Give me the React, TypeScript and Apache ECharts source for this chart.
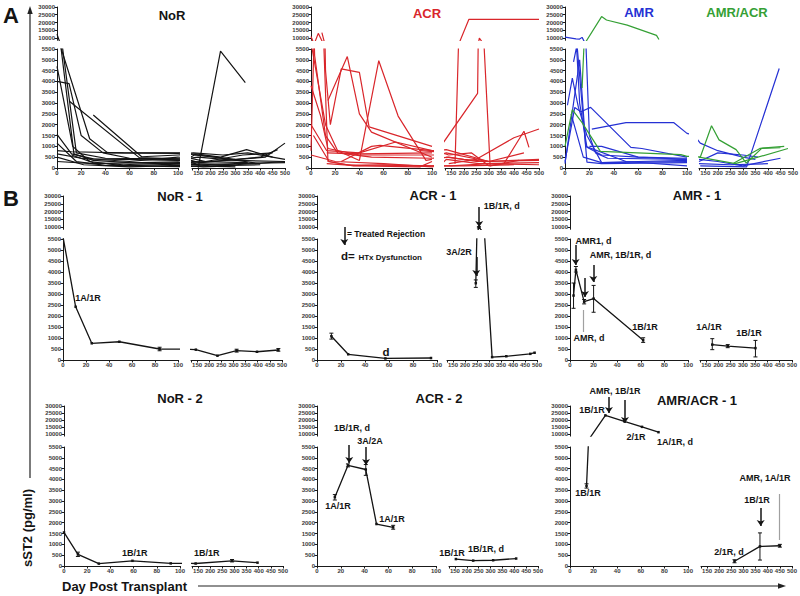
import React, { useEffect, useRef } from "react";
import * as echarts from "echarts";

type Pt = [number, number];
type Err = [number, number, number];
type Note = { t: string; x: number; y: number; g?: "L" | "R"; s?: number; w?: string };
type Arrow = { x: number; y1: number; y2: number; g?: "L" | "R"; gray?: boolean };

// ---------- axis ticks ----------
const Y_LOW_MAX = 5500;
const Y_UP_MIN = 8500;
const Y_UP_MAX = 30000;
const Y_UP_TICKS = [10000, 15000, 20000, 25000, 30000];
const X_LEFT_MAX = 100;
const X_RIGHT_MIN = 125;
const X_RIGHT_MAX = 500;
const X_RIGHT_TICKS = [125, 150, 200, 250, 300, 350, 400, 450, 500];
const X_RIGHT_LABELS = [150, 200, 250, 300, 350, 400, 450, 500];

// ---------- Panel A: individual patient trajectories (day, sST2 pg/ml) ----------
const NOR_A: Pt[][] = [
  [[0, 12500], [3, 5700], [14, 650], [30, 350], [60, 250], [100, 200], [160, 150], [300, 200], [500, 250]],
  [[4, 5800], [16, 700], [40, 450], [100, 420], [150, 500], [300, 350], [500, 300]],
  [[0, 4700], [13, 1000], [27, 300], [55, 100], [100, 180], [200, 100], [400, 150]],
  [[0, 4000], [10, 3900], [20, 1500], [38, 700], [60, 450], [100, 380], [135, 600], [250, 450], [400, 200]],
  [[10, 3100], [68, 480], [100, 420], [140, 300], [350, 250]],
  [[30, 2450], [70, 520], [100, 600], [140, 650], [240, 500], [345, 850], [450, 500]],
  [[3, 5600], [27, 1350], [42, 700], [100, 700], [150, 600], [300, 400]],
  [[0, 1550], [12, 650], [30, 420], [100, 350], [160, 250], [420, 500], [500, 1150]],
  [[0, 800], [12, 750], [55, 700], [100, 680], [130, 700], [250, 600], [350, 700], [500, 400]],
  [[0, 1150], [16, 300], [40, 120], [100, 60], [150, 100], [300, 50]],
  [[0, 650], [20, 450], [60, 300], [100, 500], [180, 300], [330, 600], [450, 700]],
  [[0, 500], [22, 150], [60, 50], [100, 120], [170, 50], [280, 100]],
  [[0, 300], [30, 200], [100, 280], [140, 200], [300, 150], [500, 300]],
  [[150, 20], [240, 5400], [340, 3950]],
  [[12, 600], [30, 250], [55, 150], [100, 250], [200, 300], [400, 500], [470, 850]],
];

const ACR_A: Pt[][] = [
  [[0, 800], [6, 13000], [14, 300], [35, 100], [60, 150], [100, 100], [150, 100], [300, 200], [500, 150]],
  [[0, 11000], [3, 5200], [12, 1500], [22, 700], [50, 500], [100, 450], [140, 500], [250, 300], [500, 350]],
  [[0, 3800], [8, 2400], [14, 900], [40, 600], [100, 600], [130, 700], [300, 300]],
  [[9, 13500], [12, 4500], [16, 2000], [25, 4580], [40, 4420], [48, 1900], [100, 1000]],
  [[14, 3120], [30, 5150], [40, 2500], [50, 1660], [100, 500]],
  [[0, 5800], [12, 2000], [22, 800], [40, 350], [56, 4960], [72, 2400], [95, 350], [100, 400]],
  [[0, 2000], [13, 800], [40, 700], [70, 1200], [100, 800], [130, 850], [300, 300], [500, 400]],
  [[13, 700], [40, 650], [100, 700]],
  [[0, 600], [20, 300], [60, 200], [100, 50], [130, 400], [260, 200], [500, 250]],
  [[2, 1500], [15, 300], [30, 150], [100, 100], [200, 100], [400, 150]],
  [[13, 200], [40, 100], [90, 50], [100, 300]],
  [[165, 200], [220, 22000], [500, 22000]],
  [[120, 1200], [255, 3450], [262, 10000], [305, 100], [360, 200], [440, 1700], [460, 950]],
  [[140, 200], [250, 400], [400, 1400], [500, 1800]],
  [[130, 500], [200, 400], [300, 300], [440, 700]],
  [[90, 800], [140, 600], [230, 700], [300, 100], [420, 350]],
  [[25, 300], [50, 1000], [57, 1050], [100, 800]],
];

const AMR_A: Pt[][] = [
  [[0, 10600], [9, 9400], [12, 9300], [14, 10400], [20, 1500], [25, 700], [35, 450], [100, 400]],
  [[2, 2900], [6, 4150], [11, 2800], [18, 1500], [30, 250], [60, 300], [100, 350]],
  [[7, 4900], [9.5, 5600], [12, 3000], [18, 960], [30, 600], [60, 500], [100, 450]],
  [[10, 5600], [18, 270], [30, 200], [100, 250]],
  [[0, 300], [8, 2800], [13, 2600], [21, 2800], [54, 950], [63, 900], [100, 500]],
  [[22, 1800], [50, 2100], [89, 2100], [100, 1600], [130, 1150], [200, 800], [300, 500], [350, 400]],
  [[20, 1000], [30, 1000], [60, 500], [100, 400]],
  [[5, 2500], [15, 500], [30, 250], [100, 300]],
  [[0, 200], [12, 5000], [17, 1000], [50, 300], [100, 100]],
  [[130, 100], [315, 50], [445, 4600]],
  [[125, 300], [200, 700], [300, 600], [360, 500]],
  [[125, 200], [250, 150], [400, 200]],
  [[125, 400], [200, 300], [300, 100], [450, 450]],
];

const AMRACR_A: Pt[][] = [
  [[14, 3700], [30, 23800], [34, 21600], [51, 18300], [75, 11700], [77, 9000]],
  [[0, 1000], [6, 2700], [14, 2100], [29, 770], [95, 620], [100, 540], [130, 500], [175, 1950], [205, 1300], [273, 850], [314, 230], [376, 920], [465, 1000]],
  [[125, 500], [270, 200], [480, 900]],
  [[263, 220], [368, 905], [450, 935]],
];

// ---------- Panel B: single patients ----------
const NOR1: Pt[] = [[0, 5600], [11, 2420], [25, 760], [49, 830], [84, 500], [145, 470], [234, 195], [313, 425], [397, 375], [485, 455]];
const NOR1_ERR: Err[] = [[84, 420, 580], [313, 360, 490], [485, 400, 520]];
const NOR2: Pt[] = [[0, 1550], [12, 540], [30, 110], [59, 240], [92, 120], [140, 115], [290, 240], [395, 155]];
const NOR2_ERR: Err[] = [[12, 440, 640], [290, 190, 300]];

const ACR1_EARLY: Pt[] = [[12, 1080], [26, 260], [57, 70], [95, 90]];
const ACR1_LATE: Pt[] = [[245, 3490], [258, 9800], [313, 130], [372, 170], [472, 280], [490, 330]];
const ACR1_ERR: Err[] = [[12, 950, 1220], [245, 3300, 3640], [258, 9400, 10200]];

const ACR2_EARLY: Pt[] = [[15, 3180], [26, 4650], [41, 4460], [50, 1940], [64, 1790]];
const ACR2_LATE: Pt[] = [[154, 320], [227, 250], [311, 265], [408, 345]];
const ACR2_ERR: Err[] = [[15, 3050, 3300], [26, 4580, 4720], [41, 4190, 4690], [64, 1700, 1880]];

const AMR1_EARLY: Pt[] = [[3, 2930], [5, 4100], [12, 2650], [20, 2790], [62, 900]];
const AMR1_LATE: Pt[] = [[175, 700], [238, 630], [351, 540]];
const AMR1_ERR: Err[] = [[3, 2350, 3500], [5, 4000, 4250], [12, 2550, 2750], [20, 2170, 3390], [62, 800, 1010], [175, 470, 970], [238, 560, 700], [351, 140, 890]];

const AMRACR1_EARLY: Pt[] = [[14, 3700], [30, 23300], [46, 19100], [61, 15100], [75, 11300]];
const AMRACR1_LATE: Pt[] = [[263, 220], [368, 905], [450, 935]];
const AMRACR1_ERR: Err[] = [[14, 3600, 3800], [263, 150, 290], [368, 275, 1530], [450, 870, 1000]];

// ---------- annotations (data coordinates of lower grids) ----------
const NOR1_NOTES: Note[] = [{ t: "1A/1R", x: 21.7, y: 2820 }];
const NOR2_NOTES: Note[] = [{ t: "1B/1R", x: 61, y: 600 }, { t: "1B/1R", x: 186, y: 600, g: "R" }];
const ACR1_NOTES: Note[] = [
  { t: "= Treated Rejection", x: 57.5, y: 5727, s: 8.5 },
  { t: "d=", x: 25.8, y: 4727, s: 11.5 },
  { t: "HTx Dysfunction", x: 61, y: 4680, s: 8 },
  { t: "d", x: 57.5, y: 364, s: 11.5 },
  { t: "1B/1R, d", x: 353, y: 7000, g: "R" },
  { t: "3A/2R", x: 175, y: 4909, g: "R" },
];
const ACR1_ARROWS: Arrow[] = [
  { x: 22.75, y1: 6045, y2: 5227 },
  { x: 259, y1: 6955, y2: 6045, g: "R" },
  { x: 247, y1: 4682, y2: 3818, g: "R" },
];
const AMR1_NOTES: Note[] = [
  { t: "AMR1, d", x: 19.9, y: 5409 },
  { t: "AMR, 1B/1R, d", x: 42.8, y: 4773 },
  { t: "AMR, d", x: 16.1, y: 1000 },
  { t: "1B/1R", x: 63.6, y: 1500 },
  { t: "1A/1R", x: 161.7, y: 1500, g: "R" },
  { t: "1B/1R", x: 325, y: 1227, g: "R" },
];
const AMR1_ARROWS: Arrow[] = [
  { x: 4.8, y1: 5227, y2: 4318 },
  { x: 19.75, y1: 4318, y2: 3545 },
  { x: 12.7, y1: 3727, y2: 2864 },
  { x: 11.3, y1: 2273, y2: 1273, gray: true },
];
const ACR2_NOTES: Note[] = [
  { t: "1B/1R, d", x: 29.4, y: 6378 },
  { t: "3A/2A", x: 44.5, y: 5777 },
  { t: "1A/1R", x: 17.6, y: 2773 },
  { t: "1A/1R", x: 63, y: 2172 },
  { t: "1B/1R", x: 137.6, y: 601, g: "R" },
  { t: "1B/1R, d", x: 281, y: 786, g: "R" },
];
const ACR2_ARROWS: Arrow[] = [
  { x: 27.1, y1: 5592, y2: 4761 },
  { x: 41.2, y1: 5500, y2: 4668 },
];
const AMRACR1_NOTES: Note[] = [
  { t: "AMR, 1B/1R", x: 38.1, y: 8088 },
  { t: "1B/1R", x: 18.6, y: 7210 },
  { t: "2/1R", x: 55.9, y: 5962 },
  { t: "1A/1R, d", x: 89, y: 5731 },
  { t: "1B/1R", x: 15.3, y: 3374 },
  { t: "AMR, 1A/1R", x: 388.7, y: 4067, g: "R" },
  { t: "1B/1R", x: 355.7, y: 3050, g: "R" },
  { t: "2/1R, d", x: 240, y: 647, g: "R" },
];
const AMRACR1_ARROWS: Arrow[] = [
  { x: 33, y1: 7811, y2: 7071 },
  { x: 46.6, y1: 7672, y2: 6609 },
  { x: 371, y1: 2681, y2: 1849, g: "R" },
  { x: 447.6, y1: 3328, y2: 1202, g: "R", gray: true },
];

// ---------- styling ----------
const FF = '"Liberation Sans", Arial, sans-serif';
const BLACK = "#141414";
const RED = "#d9262b";
const BLUE = "#2531d4";
const GREEN = "#35a035";

type Geo = { yx: number; le: number; rs: number; re: number; ut: number; u10: number; lt: number; lb: number };

function buildOption() {
  const grid: any[] = [];
  const xAxis: any[] = [];
  const yAxis: any[] = [];
  const series: any[] = [];

  const axLine = { show: true, onZero: false, lineStyle: { color: "#1a1a1a", width: 1 } };
  const tick = (vals?: number[]) => ({
    show: true, length: 2.5, lineStyle: { color: "#1a1a1a", width: 1 },
    ...(vals ? { customValues: vals } : {}),
  });
  const label = (vals?: number[]) => ({
    show: true, fontSize: 6, fontWeight: "bold", color: "#3a3a3a", fontFamily: FF, margin: 2,
    formatter: (v: number) => String(v),
    ...(vals ? { customValues: vals } : {}),
  });

  const addPanel = (g: Geo) => {
    const base = grid.length;
    const k = (g.u10 - g.ut) / (Y_UP_MAX - 10000);
    const uh = (Y_UP_MAX - Y_UP_MIN) * k;
    const lw = g.le - g.yx, rw = g.re - g.rs, lh = g.lb - g.lt;
    const boxes = [[g.yx, g.ut, lw, uh], [g.rs, g.ut, rw, uh], [g.yx, g.lt, lw, lh], [g.rs, g.lt, rw, lh]];
    boxes.forEach(([l, t, w, h]) =>
      grid.push({ left: l, top: t, width: w, height: h, containLabel: false, outerBoundsMode: "none" })
    );
    xAxis.push({ gridIndex: base, type: "value", min: 0, max: X_LEFT_MAX, show: false });
    yAxis.push({
      gridIndex: base, type: "value", min: Y_UP_MIN, max: Y_UP_MAX,
      axisLine: axLine, axisTick: tick(Y_UP_TICKS), axisLabel: label(Y_UP_TICKS), splitLine: { show: false },
    });
    xAxis.push({ gridIndex: base + 1, type: "value", min: X_RIGHT_MIN, max: X_RIGHT_MAX, show: false });
    yAxis.push({ gridIndex: base + 1, type: "value", min: Y_UP_MIN, max: Y_UP_MAX, show: false });
    xAxis.push({
      gridIndex: base + 2, type: "value", min: 0, max: X_LEFT_MAX, interval: 20,
      axisLine: axLine, axisTick: tick(), axisLabel: label(), splitLine: { show: false },
    });
    yAxis.push({
      gridIndex: base + 2, type: "value", min: 0, max: Y_LOW_MAX, interval: 500,
      axisLine: axLine, axisTick: tick(), axisLabel: label(), splitLine: { show: false },
    });
    xAxis.push({
      gridIndex: base + 3, type: "value", min: X_RIGHT_MIN, max: X_RIGHT_MAX,
      axisLine: axLine, axisTick: tick(X_RIGHT_TICKS), axisLabel: label(X_RIGHT_LABELS), splitLine: { show: false },
    });
    yAxis.push({ gridIndex: base + 3, type: "value", min: 0, max: Y_LOW_MAX, show: false });
    return base;
  };

  const lineSeries = (gi: number, data: Pt[], color: string, width: number, sym: boolean) => ({
    type: "line", xAxisIndex: gi, yAxisIndex: gi, data,
    showSymbol: sym, symbol: "rect", symbolSize: 2.5,
    itemStyle: { color }, lineStyle: { color, width },
    clip: true, silent: true, z: 3,
  });

  const addTraces = (base: number, traces: Pt[][], color: string, width: number, sym = false) => {
    traces.forEach((pts) => {
      const xs = pts.map((p) => p[0]);
      const ys = pts.map((p) => p[1]);
      const hasLeft = Math.min(...xs) < X_LEFT_MAX;
      const hasRight = Math.max(...xs) > X_RIGHT_MIN;
      const hasUp = Math.max(...ys) > Y_UP_MIN;
      if (hasLeft) {
        series.push(lineSeries(base + 2, pts, color, width, sym));
        if (hasUp) series.push(lineSeries(base, pts, color, width, sym));
      }
      if (hasRight) {
        series.push(lineSeries(base + 3, pts, color, width, sym));
        if (hasUp) series.push(lineSeries(base + 1, pts, color, width, sym));
      }
    });
  };

  const addErrors = (base: number, errs: Err[]) => {
    const groups: Record<number, Err[]> = {};
    errs.forEach((e) => {
      const gi = base + (e[1] > Y_LOW_MAX ? 0 : 2) + (e[0] > X_LEFT_MAX ? 1 : 0);
      (groups[gi] = groups[gi] || []).push(e);
    });
    Object.keys(groups).forEach((key) => {
      const gi = Number(key);
      series.push({
        type: "custom", xAxisIndex: gi, yAxisIndex: gi, data: groups[gi], silent: true, z: 4,
        encode: { x: 0, y: [1, 2] },
        renderItem: (_p: any, api: any) => {
          const x = api.value(0), lo = api.value(1), hi = api.value(2);
          const a = api.coord([x, hi]);
          const b = api.coord([x, lo]);
          const w = 2;
          const st = { stroke: BLACK, lineWidth: 1 };
          return {
            type: "group",
            children: [
              { type: "line", shape: { x1: a[0], y1: a[1], x2: b[0], y2: b[1] }, style: st },
              { type: "line", shape: { x1: a[0] - w, y1: a[1], x2: a[0] + w, y2: a[1] }, style: st },
              { type: "line", shape: { x1: b[0] - w, y1: b[1], x2: b[0] + w, y2: b[1] }, style: st },
            ],
          };
        },
      });
    });
  };

  const addNotes = (base: number, notes: Note[]) => {
    (["L", "R"] as const).forEach((side) => {
      const list = notes.filter((n) => (n.g || "L") === side);
      if (!list.length) return;
      const gi = base + (side === "R" ? 3 : 2);
      series.push({
        type: "custom", xAxisIndex: gi, yAxisIndex: gi, silent: true, z: 6,
        data: list.map((n) => [n.x, n.y]),
        encode: { x: 0, y: 1 },
        renderItem: (p: any, api: any) => {
          const n = list[p.dataIndex];
          const c = api.coord([api.value(0), api.value(1)]);
          return {
            type: "text", x: c[0], y: c[1],
            style: {
              text: n.t, fill: BLACK, fontSize: n.s || 9, fontWeight: n.w || "bold", fontFamily: FF,
              textAlign: "center", align: "center", textVerticalAlign: "middle", verticalAlign: "middle",
            },
          };
        },
      });
    });
  };

  const addArrows = (base: number, arrows: Arrow[]) => {
    (["L", "R"] as const).forEach((side) => {
      [false, true].forEach((gray) => {
        const list = arrows.filter((a) => (a.g || "L") === side && !!a.gray === gray);
        if (!list.length) return;
        const gi = base + (side === "R" ? 3 : 2);
        series.push({
          type: "lines", coordinateSystem: "cartesian2d", xAxisIndex: gi, yAxisIndex: gi,
          clip: false, silent: true, z: 5,
          symbol: gray ? ["none", "none"] : ["none", "arrow"], symbolSize: 6,
          lineStyle: { color: gray ? "#a0a0a0" : BLACK, width: gray ? 1.2 : 1.5, opacity: 1, curveness: 0 },
          data: list.map((a) => ({ coords: [[a.x, a.y1], [a.x, a.y2]] })),
        });
      });
    });
  };

  // Panel A
  const rowA = { ut: 7, u10: 38, lt: 49, lb: 168 };
  const pNor = addPanel({ yx: 57, le: 178, rs: 192, re: 285, ...rowA });
  const pAcr = addPanel({ yx: 311, le: 432, rs: 445, re: 539, ...rowA });
  const pAmr = addPanel({ yx: 565, le: 687, rs: 699, re: 793, ...rowA });
  addTraces(pNor, NOR_A, BLACK, 1.2);
  addTraces(pAcr, ACR_A, RED, 1.2);
  addTraces(pAmr, AMR_A, BLUE, 1.2);
  addTraces(pAmr, AMRACR_A, GREEN, 1.2);

  // Panel B row 1
  const row1 = { ut: 196, u10: 227, lt: 239, lb: 360 };
  const pNor1 = addPanel({ yx: 63, le: 178, rs: 191, re: 282, ...row1 });
  const pAcr1 = addPanel({ yx: 317, le: 437, rs: 447, re: 537, ...row1 });
  const pAmr1 = addPanel({ yx: 570, le: 688, rs: 700, re: 792, ...row1 });
  // Panel B row 2
  const row2 = { ut: 406, u10: 434, lt: 447, lb: 566 };
  const pNor2 = addPanel({ yx: 64, le: 180, rs: 192, re: 283, ...row2 });
  const pAcr2 = addPanel({ yx: 317, le: 436, rs: 449, re: 538, ...row2 });
  const pAa1 = addPanel({ yx: 570, le: 688, rs: 701, re: 792, ...row2 });

  addTraces(pNor1, [NOR1], BLACK, 1.3, true);
  addErrors(pNor1, NOR1_ERR);
  addNotes(pNor1, NOR1_NOTES);

  addTraces(pNor2, [NOR2], BLACK, 1.3, true);
  addErrors(pNor2, NOR2_ERR);
  addNotes(pNor2, NOR2_NOTES);

  addTraces(pAcr1, [ACR1_EARLY, ACR1_LATE], BLACK, 1.3, true);
  addErrors(pAcr1, ACR1_ERR);
  addNotes(pAcr1, ACR1_NOTES);
  addArrows(pAcr1, ACR1_ARROWS);

  addTraces(pAcr2, [ACR2_EARLY, ACR2_LATE], BLACK, 1.3, true);
  addErrors(pAcr2, ACR2_ERR);
  addNotes(pAcr2, ACR2_NOTES);
  addArrows(pAcr2, ACR2_ARROWS);

  addTraces(pAmr1, [AMR1_EARLY, AMR1_LATE], BLACK, 1.3, true);
  addErrors(pAmr1, AMR1_ERR);
  addNotes(pAmr1, AMR1_NOTES);
  addArrows(pAmr1, AMR1_ARROWS);

  addTraces(pAa1, [AMRACR1_EARLY, AMRACR1_LATE], BLACK, 1.3, true);
  addErrors(pAa1, AMRACR1_ERR);
  addNotes(pAa1, AMRACR1_NOTES);
  addArrows(pAa1, AMRACR1_ARROWS);

  const txt = (t: string, x: number, y: number, size: number, fill: string, align = "center", rot = 0) => ({
    type: "text", x, y, rotation: rot, z: 10,
    style: {
      text: t, fill, fontSize: size, fontWeight: "bold", fontFamily: FF,
      textAlign: align, align, textVerticalAlign: "middle", verticalAlign: "middle",
    },
  });

  const graphic: any[] = [
    txt("A", 3, 15, 22, BLACK, "left"),
    txt("B", 3, 198, 22, BLACK, "left"),
    txt("NoR", 172, 15, 13, BLACK),
    txt("ACR", 427, 13, 13, RED),
    txt("AMR", 639, 12, 13, BLUE),
    txt("AMR/ACR", 737, 12, 13, GREEN),
    txt("NoR - 1", 180, 196, 13, BLACK),
    txt("ACR - 1", 433, 195, 13, BLACK),
    txt("AMR - 1", 697, 195, 13, BLACK),
    txt("NoR - 2", 180, 398, 13, BLACK),
    txt("ACR - 2", 439, 398, 13, BLACK),
    txt("AMR/ACR - 1", 697, 400, 13, BLACK),
    txt("sST2 (pg/ml)", 27, 528, 13, BLACK, "center", Math.PI / 2),
    txt("Day Post Transplant", 62, 586, 13, BLACK, "left"),
    { type: "line", z: 10, shape: { x1: 30, y1: 13, x2: 30, y2: 478 }, style: { stroke: "#222", lineWidth: 1.2 } },
    { type: "polygon", z: 10, shape: { points: [[30, 6], [27.3, 14], [32.7, 14]] }, style: { fill: "#222" } },
    { type: "line", z: 10, shape: { x1: 198, y1: 586, x2: 779, y2: 586 }, style: { stroke: "#222", lineWidth: 1.2 } },
    { type: "polygon", z: 10, shape: { points: [[786, 586], [778, 583.3], [778, 588.7]] }, style: { fill: "#222" } },
  ];

  return { animation: false, backgroundColor: "#ffffff", grid, xAxis, yAxis, series, graphic };
}

export default function App() {
  const ref = useRef<HTMLDivElement>(null);
  useEffect(() => {
    document.body.style.margin = "0";
    const chart = echarts.init(ref.current as HTMLDivElement, null, { renderer: "svg" });
    chart.setOption(buildOption() as any);
    return () => chart.dispose();
  }, []);
  return <div ref={ref} style={{ width: 800, height: 596 }} />;
}
